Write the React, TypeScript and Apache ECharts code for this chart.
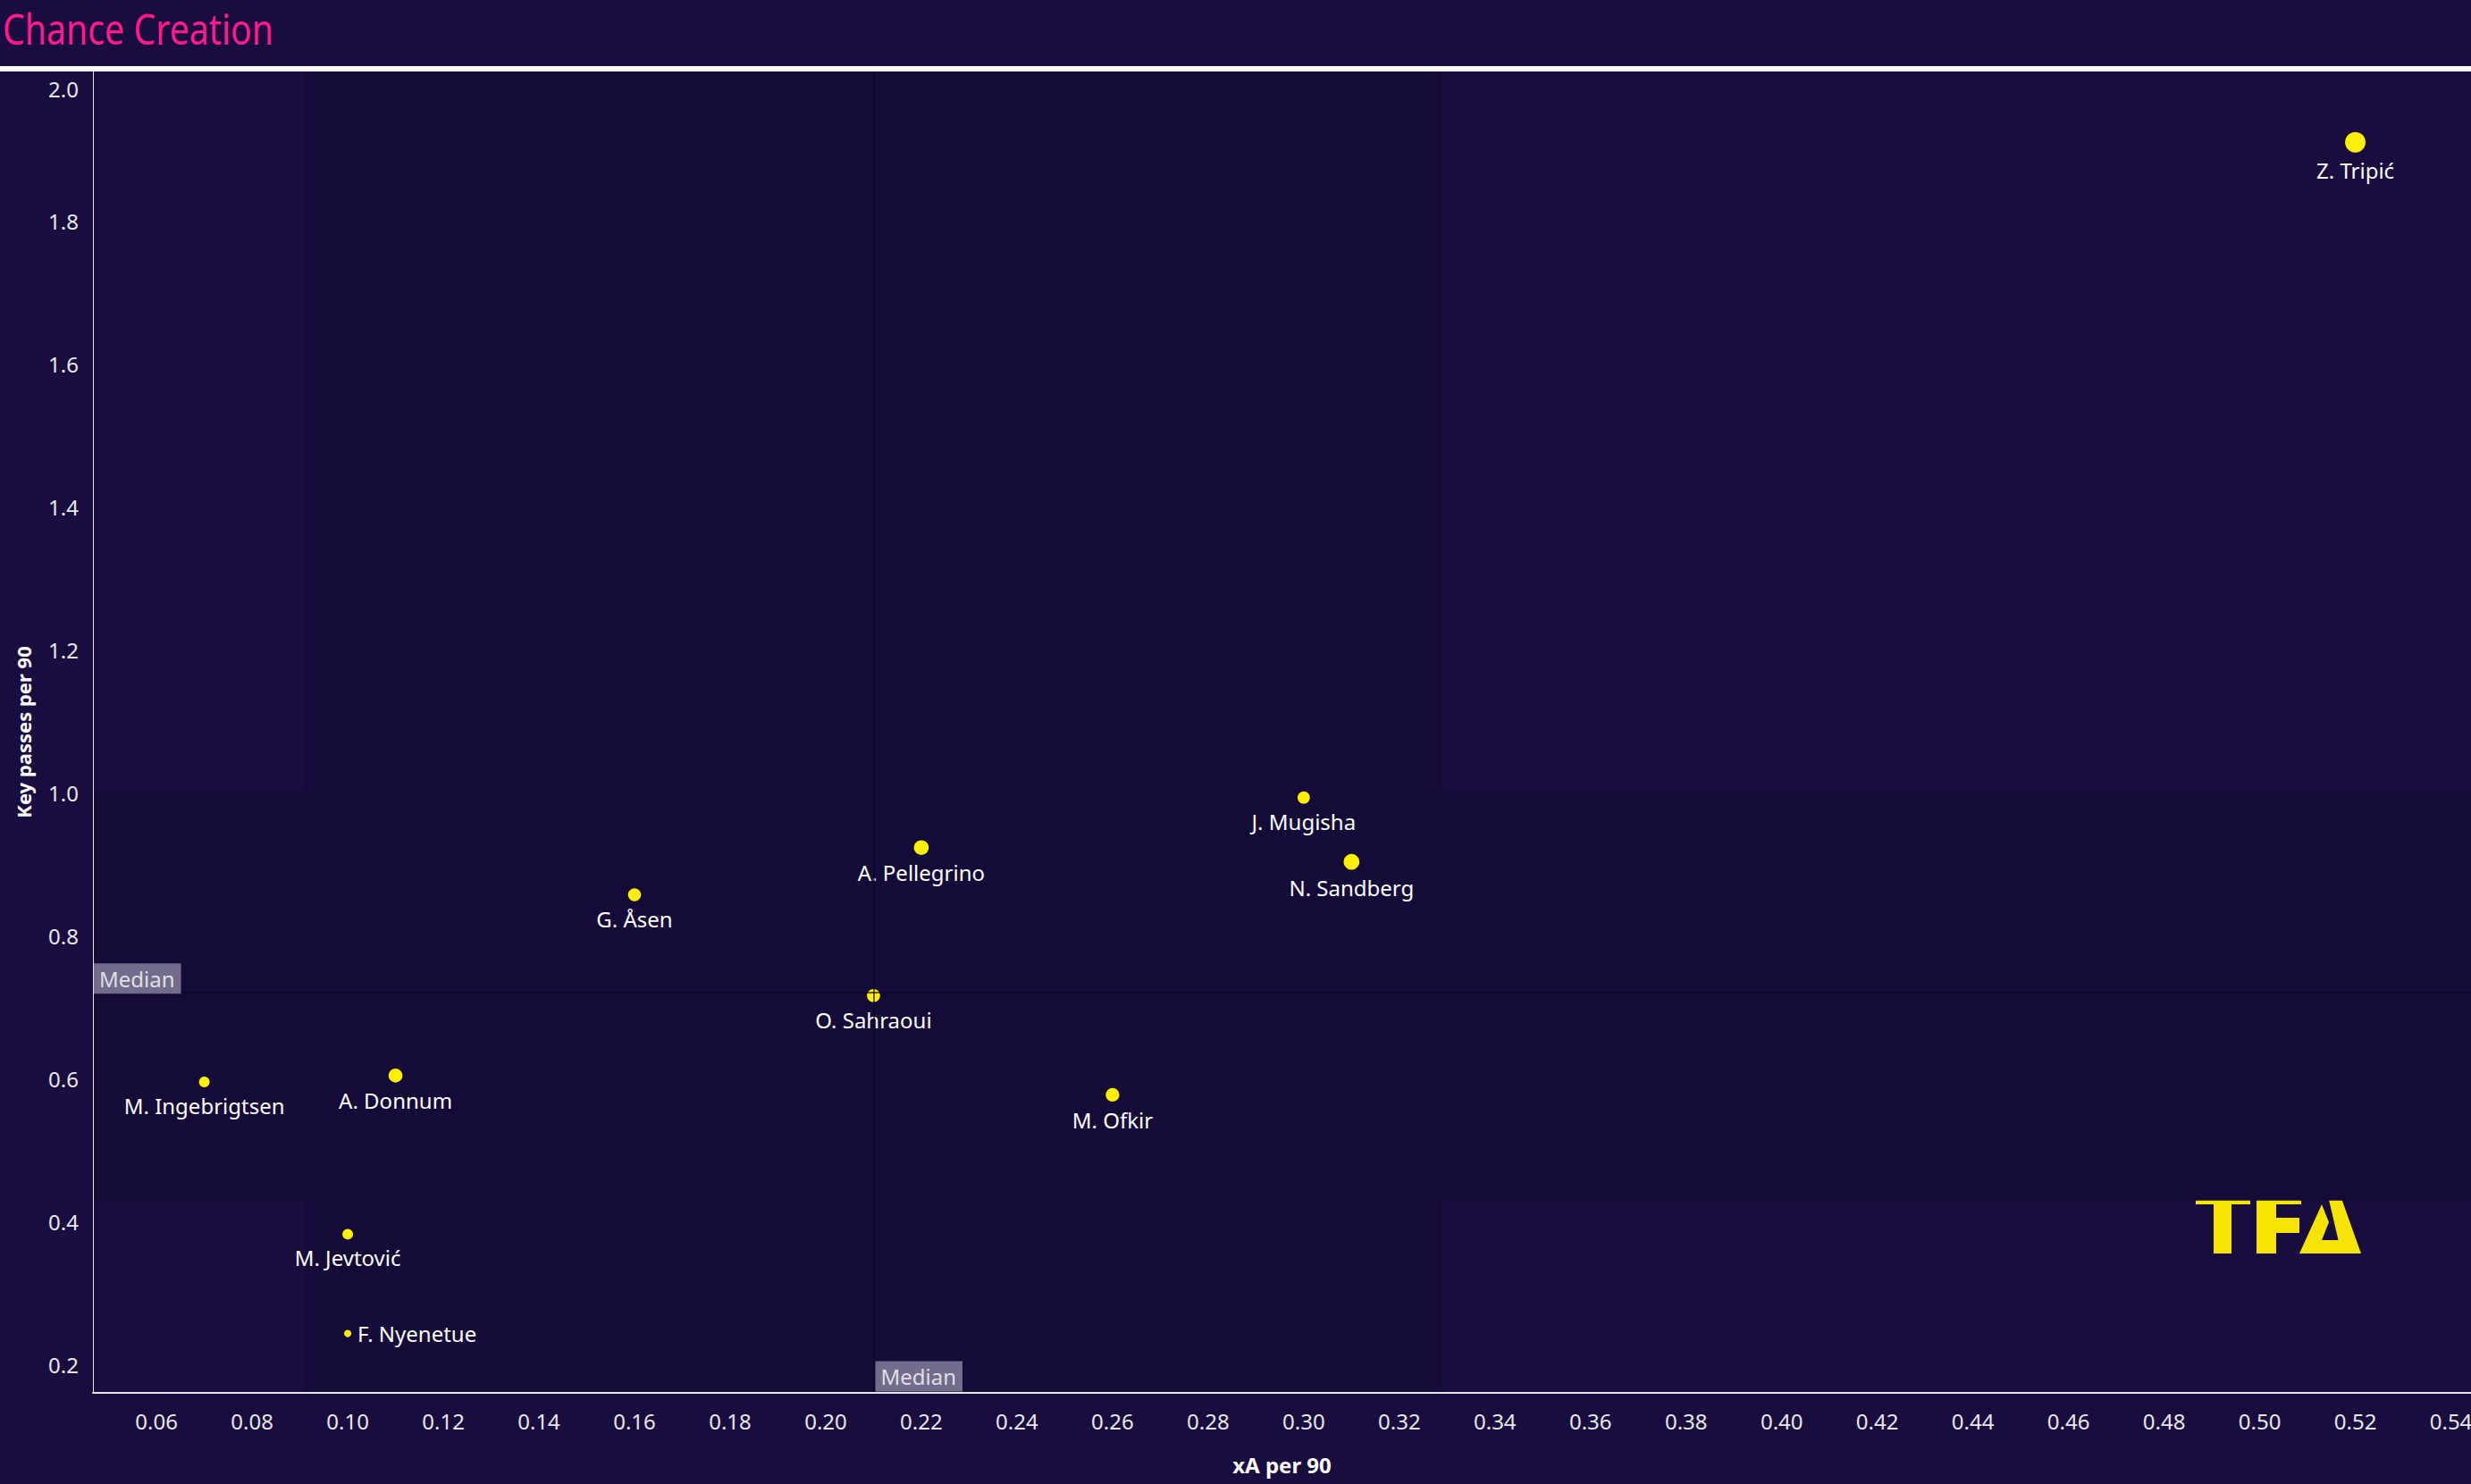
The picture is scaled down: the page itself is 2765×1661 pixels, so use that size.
import React, { useEffect, useRef } from "react";
import * as echarts from "echarts";

// ---------- data ----------
const players = [
  "Z. Tripić",
  "J. Mugisha",
  "N. Sandberg",
  "A. Pellegrino",
  "G. Åsen",
  "O. Sahraoui",
  "M. Ingebrigtsen",
  "A. Donnum",
  "M. Ofkir",
  "M. Jevtović",
  "F. Nyenetue",
];
const xAPer90 = [0.52, 0.3, 0.31, 0.22, 0.16, 0.21, 0.07, 0.11, 0.26, 0.1, 0.1];
const keyPassesPer90 = [1.91, 0.993, 0.903, 0.923, 0.857, 0.716, 0.595, 0.604, 0.577, 0.382, 0.243];
// relative bubble weight (largest = 1)
const sizeWeight = [1.0, 0.6, 0.77, 0.72, 0.63, 0.64, 0.52, 0.68, 0.66, 0.52, 0.35];

const medianX = 0.21;
const medianY = 0.716;
const bandX = [0.091, 0.329];
const bandY = [0.429, 1.001];

const xAxisRange = [0.0467, 0.5442];
const yAxisRange = [0.16, 2.009];
const xTickStep = 0.02;
const yTickStep = 0.2;

const titleText = "Chance Creation";
const xAxisTitle = "xA per 90";
const yAxisTitle = "Key passes per 90";
const medianText = "Median";

// ---------- styles ----------
const W = 2765;
const H = 1661;
const BG = "#190d3f";
const BAND = "#140b38";
const DOT = "#fff000";
const LOGO = "#f5e500";
const FONT = "'Noto Sans', 'Open Sans', sans-serif";
const MAX_DIAM = 23;

export default function App() {
  const ref = useRef<HTMLDivElement>(null);

  useEffect(() => {
    if (!ref.current) return;
    const chart = echarts.init(ref.current, null, { renderer: "svg" });

    const points = players.map((name, i) => ({
      name,
      value: [xAPer90[i], keyPassesPer90[i], sizeWeight[i]],
      label:
        name === "F. Nyenetue"
          ? { position: "right", distance: 7 }
          : undefined,
    }));

    const medianLabelStyle = {
      show: true,
      formatter: medianText,
      color: "#ffffff",
      fontSize: 24,
      fontFamily: FONT,
      backgroundColor: "#8b85a1",
      padding: [3, 7, 3, 6],
      lineHeight: 28,
      align: "left",
      verticalAlign: "bottom",
    };

    chart.setOption({
      animation: false,
      backgroundColor: BG,
      grid: {
        left: 104,
        top: 80,
        right: 0,
        bottom: 102,
        containLabel: false,
        outerBoundsMode: "none",
      },
      xAxis: {
        type: "value",
        min: xAxisRange[0],
        max: xAxisRange[1],
        splitNumber: 25,
        minInterval: xTickStep,
        maxInterval: xTickStep,
        z: 10,
        name: xAxisTitle,
        nameLocation: "middle",
        nameGap: 68,
        nameTextStyle: {
          color: "#ffffff",
          fontSize: 24,
          fontWeight: "bold",
          fontFamily: FONT,
        },
        axisLine: { show: true, lineStyle: { color: "#e6e6e6", width: 2 } },
        axisTick: { show: false },
        splitLine: { show: false },
        axisLabel: {
          show: true,
          showMinLabel: false,
          showMaxLabel: false,
          margin: 19,
          color: "#e8e8e8",
          fontSize: 24,
          fontFamily: FONT,
          formatter: (v: number) => v.toFixed(2),
        },
      },
      yAxis: {
        type: "value",
        min: yAxisRange[0],
        max: yAxisRange[1],
        splitNumber: 9,
        minInterval: yTickStep,
        maxInterval: yTickStep,
        z: 10,
        name: yAxisTitle,
        nameLocation: "middle",
        nameRotate: 90,
        nameGap: 67,
        nameTextStyle: {
          color: "#ffffff",
          fontSize: 22,
          fontWeight: "bold",
          fontFamily: FONT,
        },
        axisLine: { show: true, lineStyle: { color: "#e6e6e6", width: 1 } },
        axisTick: { show: false },
        splitLine: { show: false },
        axisLabel: {
          show: true,
          showMinLabel: false,
          showMaxLabel: false,
          margin: 16,
          color: "#e8e8e8",
          fontSize: 24,
          fontFamily: FONT,
          formatter: (v: number) =>
            Math.abs(v - 2.0) < 1e-6 ? "{top|" + v.toFixed(1) + "}" : v.toFixed(1),
          rich: {
            top: {
              color: "#e8e8e8",
              fontSize: 24,
              fontFamily: FONT,
              padding: [24, 0, 0, 0],
            },
          },
        },
      },
      series: [
        {
          type: "scatter",
          data: [],
          z: 1,
          silent: true,
          markArea: {
            silent: true,
            itemStyle: { color: BAND, borderWidth: 0 },
            label: { show: false },
            data: [
              [{ xAxis: bandX[0] }, { xAxis: bandX[1] }],
              [{ yAxis: bandY[0] }, { yAxis: bandY[1] }],
            ],
          },
        },
        {
          type: "scatter",
          data: points,
          z: 3,
          symbol: "circle",
          symbolSize: (v: number[]) => v[2] * MAX_DIAM,
          itemStyle: { color: DOT, opacity: 1, borderWidth: 0 },
          label: {
            show: true,
            position: "bottom",
            distance: 8,
            formatter: "{b}",
            color: "#ffffff",
            fontSize: 24,
            fontFamily: FONT,
          },
        },
        {
          type: "scatter",
          data: [],
          z: 4,
          silent: true,
          markLine: {
            silent: true,
            symbol: "none",
            label: { show: false },
            lineStyle: { color: "#0b0620", width: 1.5, type: "solid", opacity: 0.85 },
            data: [{ xAxis: medianX }, { yAxis: medianY }],
          },
        },
        {
          type: "scatter",
          z: 5,
          clip: false,
          silent: true,
          symbolSize: 1,
          itemStyle: { color: "rgba(0,0,0,0)" },
          data: [
            { value: [xAxisRange[0], medianY], label: { ...medianLabelStyle, position: [1.5, -1.5] } },
            { value: [medianX, yAxisRange[0]], label: { ...medianLabelStyle, position: [2.5, -1] } },
          ],
        },
      ],
      graphic: [
        {
          type: "text",
          x: 3,
          y: 9,
          scaleX: 0.835,
          z: 100,
          style: {
            text: titleText,
            fill: "#ff1a8e",
            fontSize: 47,
            fontFamily: FONT,
            fontWeight: "normal",
            textAlign: "left",
            textVerticalAlign: "top",
          },
        },
        {
          type: "rect",
          shape: { x: 0, y: 74, width: W, height: 6 },
          style: { fill: "#ffffff" },
          z: 100,
        },
        {
          type: "group",
          z: 100,
          children: [
            { type: "polygon", shape: { points: [[2457, 1332], [2518, 1332], [2518, 1348], [2457, 1348]] }, style: { fill: LOGO } },
            { type: "polygon", shape: { points: [[2477, 1348], [2497, 1348], [2497, 1403], [2477, 1403]] }, style: { fill: LOGO } },
            {
              type: "polygon",
              shape: {
                points: [[2525, 1332], [2575, 1332], [2575, 1348], [2547, 1348], [2547, 1363], [2573, 1363], [2573, 1380], [2547, 1380], [2547, 1403], [2525, 1403]],
              },
              style: { fill: LOGO },
            },
            { type: "polygon", shape: { points: [[2603, 1330], [2616, 1330], [2642, 1403], [2620, 1403]] }, style: { fill: LOGO } },
            {
              type: "polygon",
              shape: { points: [[2598, 1348], [2606, 1368], [2598, 1388], [2618, 1388], [2624, 1403], [2573, 1403]] },
              style: { fill: LOGO },
            },
          ],
        },
      ],
    });

    return () => chart.dispose();
  }, []);

  return (
    <div
      ref={ref}
      style={{ position: "fixed", left: 0, top: 0, width: W, height: H }}
    />
  );
}
